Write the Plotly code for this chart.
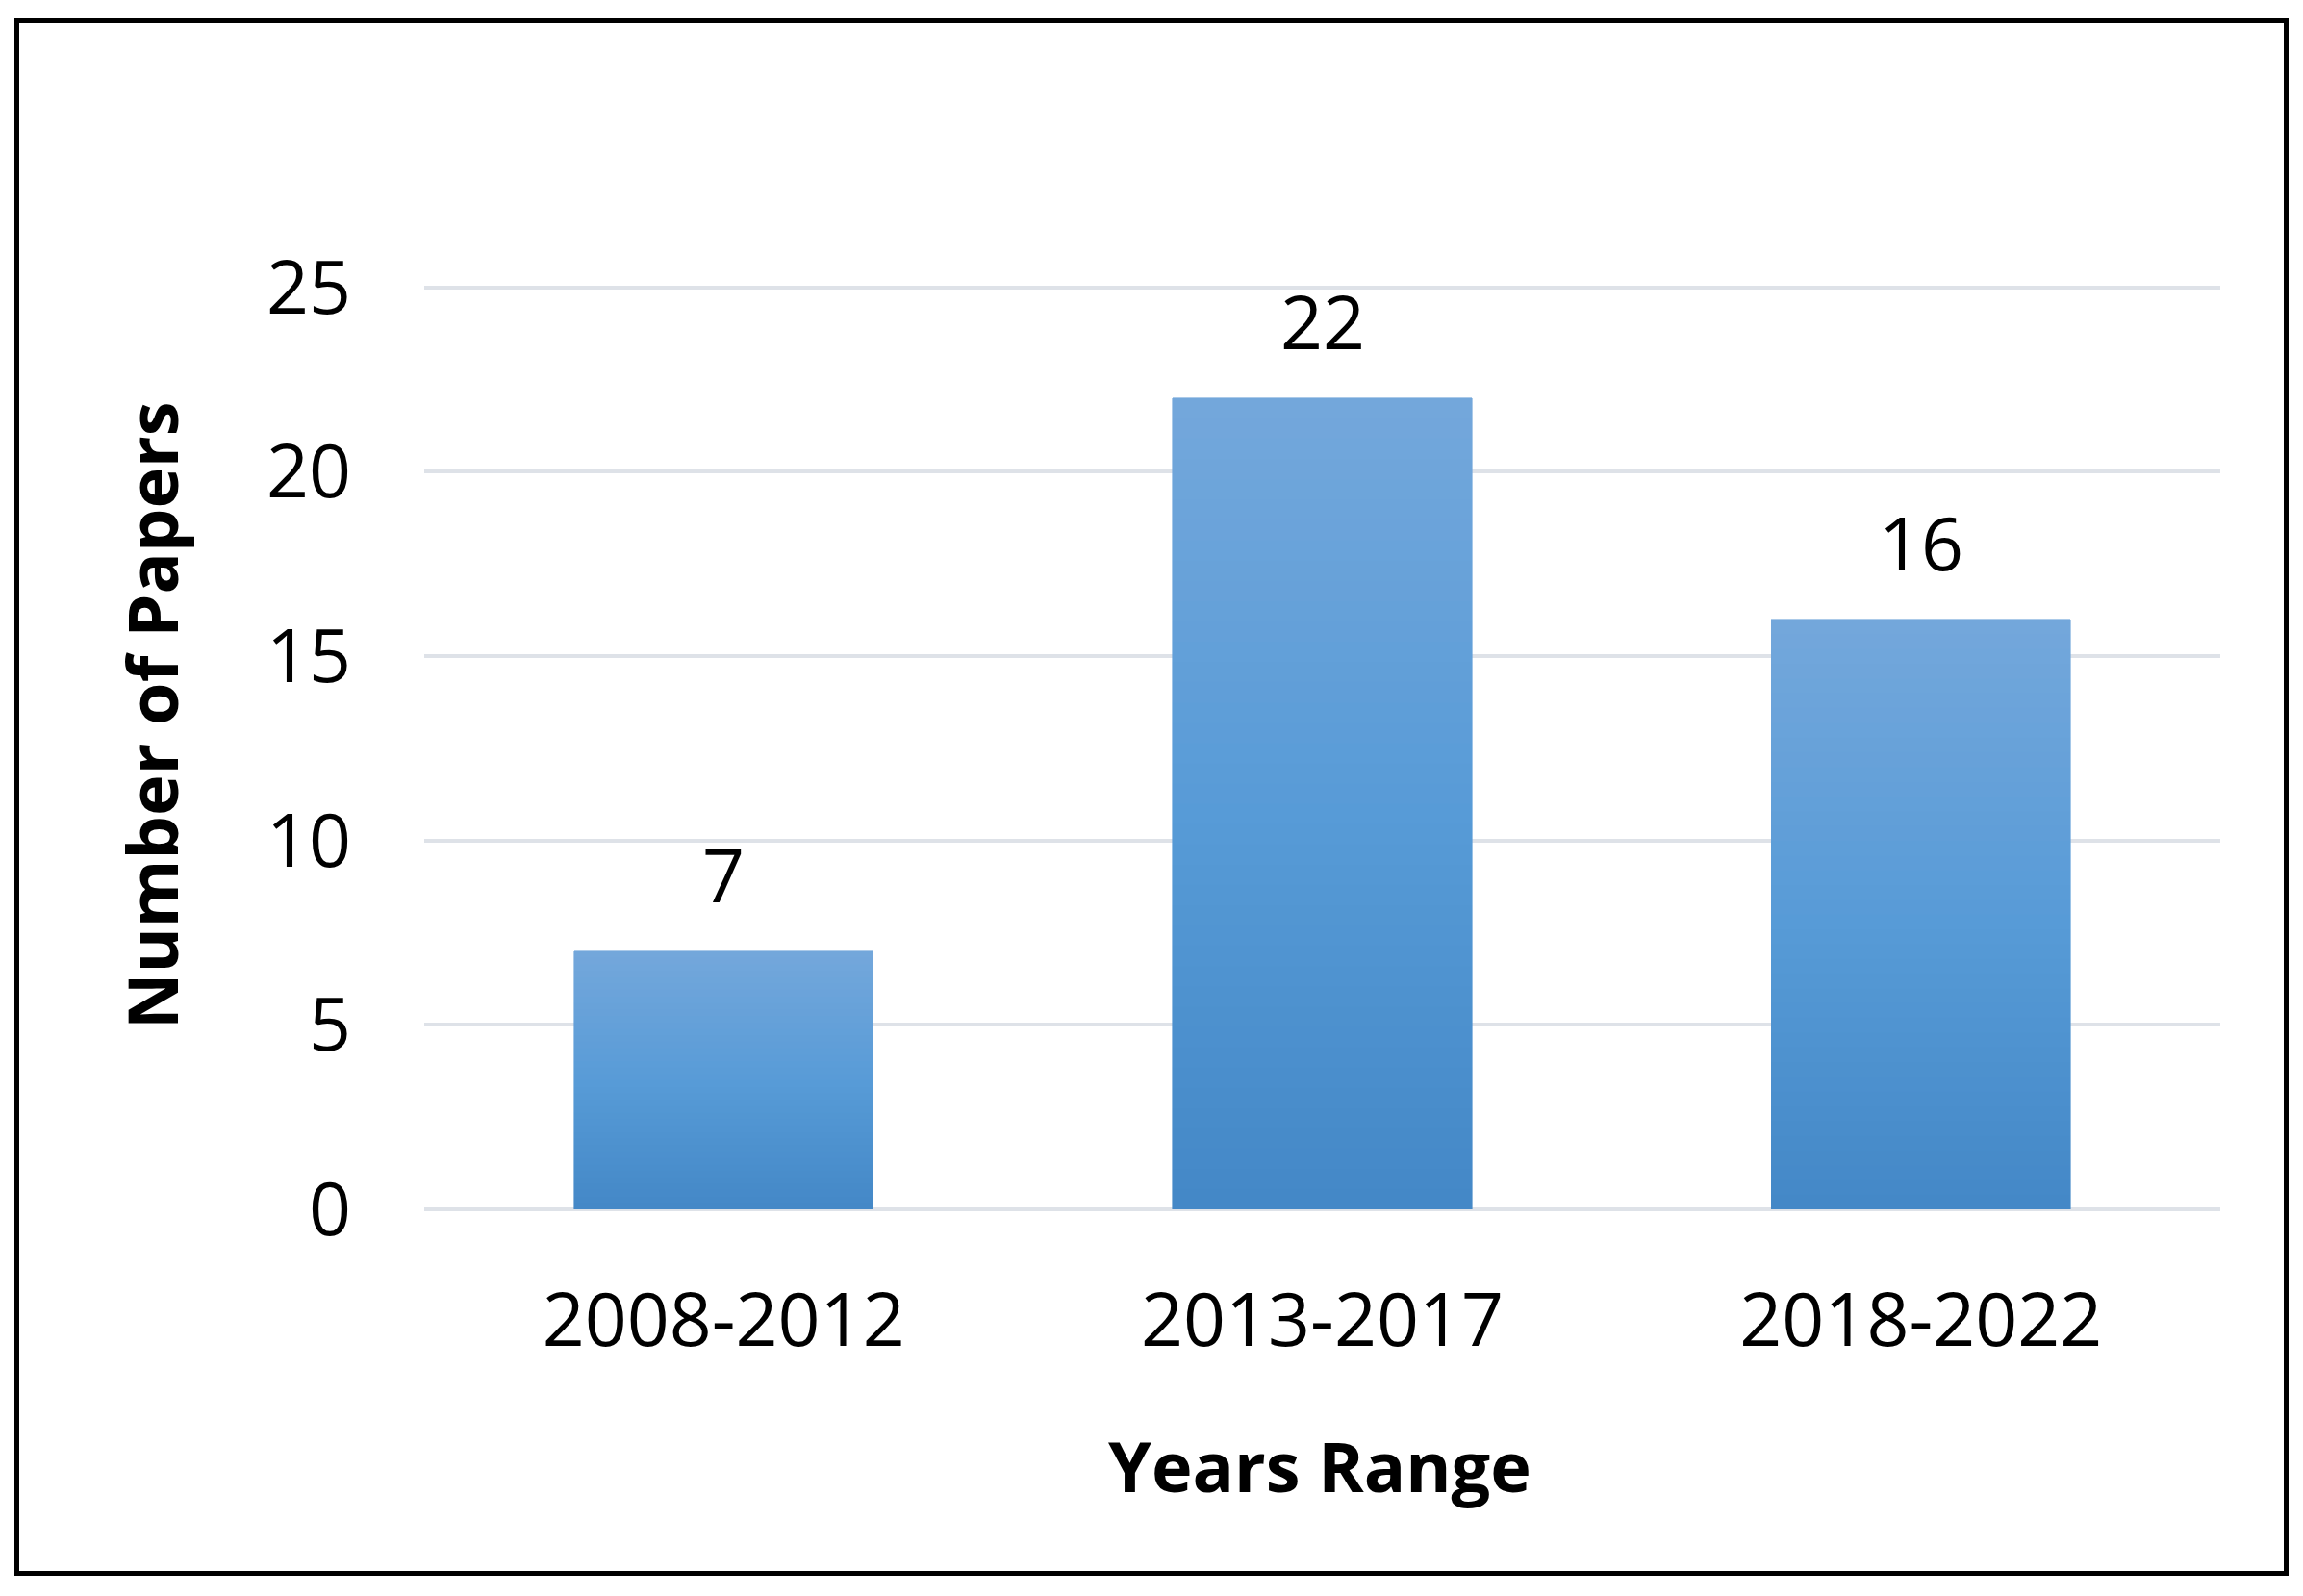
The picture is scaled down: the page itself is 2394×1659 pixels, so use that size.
import plotly.graph_objects as go

categories = ["2008-2012", "2013-2017", "2018-2022"]
papers = [7, 22, 16]
y_ticks = [0, 5, 10, 15, 20, 25]

WIN_W, WIN_H = 2394, 1659
OFF = 8  # page body margin
W, H = WIN_W - 2 * OFF, WIN_H - 2 * OFF

# window pixel positions of plot area (from reference)
X_LEFT, X_RIGHT = 441, 2308
Y_ZERO, Y_25 = 1257, 299
Y_MAX = 25.1
unit = (Y_ZERO - Y_25) / 25.0
Y_TOP = Y_ZERO - Y_MAX * unit

L = X_LEFT - OFF
R = W - (X_RIGHT - OFF)
T = round(Y_TOP - OFF)
B = H - (Y_ZERO - OFF)

N_SEG = 40
top_rgb = (115, 167, 219)
mid_rgb = (88, 155, 215)
bot_rgb = (68, 136, 199)


def seg_color(i):
    f = i / (N_SEG - 1)
    if f < 0.5:
        g = f / 0.5
        a, b = bot_rgb, mid_rgb
    else:
        g = (f - 0.5) / 0.5
        a, b = mid_rgb, top_rgb
    c = [round(a[k] + (b[k] - a[k]) * g) for k in range(3)]
    return f"rgb({c[0]},{c[1]},{c[2]})"


fig = go.Figure()
for i in range(N_SEG):
    fig.add_trace(go.Bar(
        x=categories,
        y=[v / N_SEG for v in papers],
        marker=dict(color=seg_color(i), line=dict(width=0.6, color=seg_color(i))),
        showlegend=False,
        hoverinfo="skip" if i < N_SEG - 1 else None,
        name="Number of Papers",
    ))

for c, v in zip(categories, papers):
    fig.add_annotation(x=c, y=v, text=str(v), showarrow=False,
                       yanchor="middle", yshift=80,
                       font=dict(family="Open Sans", size=77, color="#000000"))

plot_w = W - L - R
plot_h = H - T - B


def px(xw):
    return (xw - OFF - L) / plot_w


def py(yw):
    return ((H - B) - (yw - OFF)) / plot_h


fig.add_shape(type="rect", xref="paper", yref="paper",
              x0=px(17.5), x1=px(2376.5), y0=py(21.5), y1=py(1635.5),
              line=dict(color="#000000", width=5), layer="above")

fig.add_annotation(xref="paper", yref="paper", x=px(1372), y=py(1523),
                   text="<b>Years Range</b>", showarrow=False,
                   xanchor="center", yanchor="middle",
                   font=dict(family="Open Sans", size=72, color="#000000"))
fig.add_annotation(xref="paper", yref="paper", x=px(157), y=py(744),
                   text="<b>Number of Papers</b>", showarrow=False, textangle=-90,
                   xanchor="center", yanchor="middle",
                   font=dict(family="Open Sans", size=72, color="#000000"))

fig.update_layout(
    width=W, height=H,
    margin=dict(l=L, r=R, t=T, b=B),
    paper_bgcolor="white", plot_bgcolor="white",
    barmode="stack", bargap=0.5,
    font=dict(family="Open Sans", color="#000000"),
    xaxis=dict(
        tickfont=dict(family="Open Sans", size=77, color="#000000"),
        showgrid=False, zeroline=False, showline=False, ticks="",
        ticklabelstandoff=64,
    ),
    yaxis=dict(
        range=[0, Y_MAX], tickvals=y_ticks,
        tickfont=dict(family="Open Sans", size=77, color="#000000"),
        showgrid=True, gridcolor="#DEE2E8", gridwidth=4,
        zeroline=True, zerolinecolor="#DEE2E8", zerolinewidth=4,
        showline=False, ticks="", ticklabelstandoff=75,
    ),
)

fig.write_html("out.html")
